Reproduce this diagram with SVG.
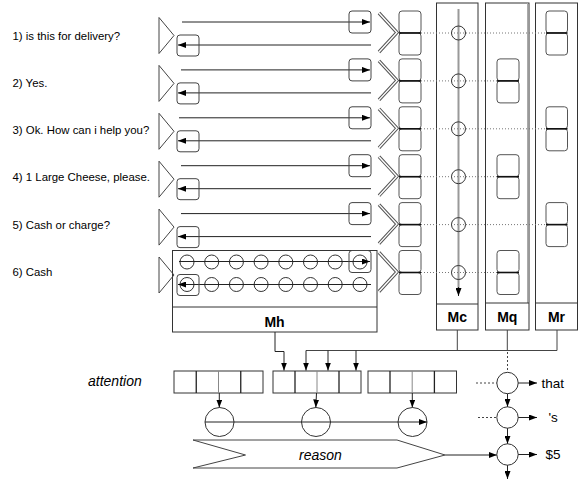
<svg xmlns="http://www.w3.org/2000/svg" width="582" height="484" viewBox="0 0 582 484">
<style>
text{font-family:"Liberation Sans",Arial,sans-serif;fill:#000}
.lbl{font-size:11.4px}
.it{font-style:italic;font-size:14px}
.b{font-weight:bold;font-size:14px;text-anchor:middle}
.sm{font-size:13.5px}
.s{fill:none;stroke:#444;stroke-width:1}
.w{fill:#fff;stroke:#333;stroke-width:1}
.bx{fill:none;stroke:#444;stroke-width:1}
.mb{fill:#fff;stroke:#555;stroke-width:1}
.mid{stroke:#111;stroke-width:1.6}
.ar{fill:none;stroke:#222;stroke-width:1;marker-end:url(#ah)}
.dot{fill:none;stroke:#777;stroke-width:1;stroke-dasharray:1 2}
.dash{fill:none;stroke:#444;stroke-width:1;stroke-dasharray:2 2}
.ch1{fill:none;stroke:#555;stroke-width:3.4}
.ch2{fill:none;stroke:#fff;stroke-width:1.4}
.c{fill:none;stroke:#333;stroke-width:1}
.dk{stroke:#222;stroke-width:1.3}
.gr{stroke:#888;stroke-width:1}
</style>
<defs>
<marker id="ah" markerUnits="userSpaceOnUse" markerWidth="8" markerHeight="6" refX="8" refY="3" orient="auto">
<path d="M0,0 L8,3 L0,6 z" fill="#000"/>
</marker>
</defs>
<rect width="582" height="484" fill="#fff"/>

<!-- columns -->
<g id="Mc">
<rect class="w" x="436.5" y="3" width="41.5" height="327"/>
<line x1="436.5" y1="304" x2="478" y2="304" stroke="#333"/>
<line x1="458.5" y1="9" x2="458.5" y2="288" stroke="#999" stroke-width="2"/>
<line x1="458.5" y1="287" x2="458.5" y2="296" class="ar"/>
<text class="b" x="457.3" y="322">Mc</text>
</g>
<g id="Mq">
<rect class="w" x="485.5" y="3" width="43.5" height="327"/>
<line x1="527.5" y1="3" x2="527.5" y2="303" stroke="#aaa"/>
<line x1="485.5" y1="303" x2="529" y2="303" stroke="#333"/>
<text class="b" x="507.3" y="322">Mq</text>
</g>
<g id="Mr">
<rect class="w" x="535.5" y="3" width="42" height="327"/>
<line x1="535.5" y1="303" x2="577.5" y2="303" stroke="#333"/>
<text class="b" x="556.5" y="322">Mr</text>
</g>

<!-- dotted links -->
<g id="links">
<line class="dot" x1="421" y1="33" x2="546" y2="33"/>
<line class="dot" x1="421" y1="80.9" x2="497" y2="80.9"/>
<line class="dot" x1="421" y1="128.8" x2="546" y2="128.8"/>
<line class="dot" x1="421" y1="176.7" x2="497" y2="176.7"/>
<line class="dot" x1="421" y1="224.6" x2="546" y2="224.6"/>
<line class="dot" x1="421" y1="272.5" x2="497" y2="272.5"/>
</g>

<g id="Mc-cells">
<circle class="c" cx="458.5" cy="33" r="7"/>
<circle class="c" cx="458.5" cy="80.9" r="7"/>
<circle class="c" cx="458.5" cy="128.8" r="7"/>
<circle class="c" cx="458.5" cy="176.7" r="7"/>
<circle class="c" cx="458.5" cy="224.6" r="7"/>
<circle class="c" cx="458.5" cy="272.5" r="7"/>
</g>

<g id="Mr-cells">
<g transform="translate(0,0)"><rect class="mb" x="546" y="11" width="21.5" height="22" rx="3"/><rect class="mb" x="546" y="33" width="21.5" height="22" rx="3"/><line class="mid" x1="546" y1="33" x2="567.5" y2="33"/></g>
<g transform="translate(0,95.8)"><rect class="mb" x="546" y="11" width="21.5" height="22" rx="3"/><rect class="mb" x="546" y="33" width="21.5" height="22" rx="3"/><line class="mid" x1="546" y1="33" x2="567.5" y2="33"/></g>
<g transform="translate(0,191.6)"><rect class="mb" x="546" y="11" width="21.5" height="22" rx="3"/><rect class="mb" x="546" y="33" width="21.5" height="22" rx="3"/><line class="mid" x1="546" y1="33" x2="567.5" y2="33"/></g>
</g>
<g id="Mq-cells">
<g transform="translate(0,47.9)"><rect class="mb" x="497" y="11" width="22" height="22" rx="3"/><rect class="mb" x="497" y="33" width="22" height="22" rx="3"/><line class="mid" x1="497" y1="33" x2="519" y2="33"/></g>
<g transform="translate(0,143.7)"><rect class="mb" x="497" y="11" width="22" height="22" rx="3"/><rect class="mb" x="497" y="33" width="22" height="22" rx="3"/><line class="mid" x1="497" y1="33" x2="519" y2="33"/></g>
<g transform="translate(0,239.5)"><rect class="mb" x="497" y="11" width="22" height="22" rx="3"/><rect class="mb" x="497" y="33" width="22" height="22" rx="3"/><line class="mid" x1="497" y1="33" x2="519" y2="33"/></g>
</g>

<!-- Mh -->
<g id="Mh">
<rect class="w" x="172.5" y="250.5" width="204.5" height="81.5"/>
<line x1="172.5" y1="307" x2="377" y2="307" stroke="#333"/>
<g class="c">
<circle cx="187" cy="262" r="7"/><circle cx="211.7" cy="262" r="7"/><circle cx="236.4" cy="262" r="7"/><circle cx="261.1" cy="262" r="7"/><circle cx="285.8" cy="262" r="7"/><circle cx="310.5" cy="262" r="7"/><circle cx="335.2" cy="262" r="7"/><circle cx="360" cy="262" r="7"/>
<circle cx="187" cy="284.5" r="7"/><circle cx="211.7" cy="284.5" r="7"/><circle cx="236.4" cy="284.5" r="7"/><circle cx="261.1" cy="284.5" r="7"/><circle cx="285.8" cy="284.5" r="7"/><circle cx="310.5" cy="284.5" r="7"/><circle cx="335.2" cy="284.5" r="7"/><circle cx="360" cy="284.5" r="7"/>
</g>
<text class="b" x="274.5" y="327">Mh</text>
</g>

<!-- rows -->
<g id="row1">
<text class="lbl" x="12.5" y="39.5">1) is this for delivery?</text>
<polygon class="s" points="159,17.5 174,35.5 159,53.5"/>
<line class="ar" x1="182" y1="22" x2="370" y2="22"/>
<rect class="bx" x="349" y="11" width="22" height="22" rx="3"/>
<line class="ar" x1="371" y1="45" x2="178" y2="45"/>
<rect class="bx" x="177" y="35" width="22" height="21" rx="3"/>
<polyline class="ch1" points="379,13 397,32.5 379,52"/><polyline class="ch2" points="379,13 397,32.5 379,52"/>
<rect class="mb" x="399" y="11" width="22" height="22" rx="3"/><rect class="mb" x="399" y="33" width="22" height="22" rx="3"/><line class="mid" x1="399" y1="33" x2="421" y2="33"/>
</g>
<g id="row2">
<text class="lbl" x="12.5" y="86.8">2) Yes.</text>
<g transform="translate(0,47.9)">
<polygon class="s" points="159,17.5 174,35.5 159,53.5"/>
<line class="ar" x1="181" y1="22" x2="370" y2="22"/>
<rect class="bx" x="349" y="11" width="22" height="22" rx="3"/>
<line class="ar" x1="371" y1="45" x2="178" y2="45"/>
<rect class="bx" x="177" y="35" width="22" height="21" rx="3"/>
<polyline class="ch1" points="379,13 397,32.5 379,52"/><polyline class="ch2" points="379,13 397,32.5 379,52"/>
<rect class="mb" x="399" y="11" width="22" height="22" rx="3"/><rect class="mb" x="399" y="33" width="22" height="22" rx="3"/><line class="mid" x1="399" y1="33" x2="421" y2="33"/>
</g>
</g>
<g id="row3">
<text class="lbl" x="12.5" y="134.1">3) Ok. How can i help you?</text>
<g transform="translate(0,95.8)">
<polygon class="s" points="159,17.5 174,35.5 159,53.5"/>
<line class="ar" x1="179" y1="22" x2="370" y2="22"/>
<rect class="bx" x="349" y="11" width="22" height="22" rx="3"/>
<line class="ar" x1="371" y1="45" x2="178" y2="45"/>
<rect class="bx" x="177" y="35" width="22" height="21" rx="3"/>
<polyline class="ch1" points="379,13 397,32.5 379,52"/><polyline class="ch2" points="379,13 397,32.5 379,52"/>
<rect class="mb" x="399" y="11" width="22" height="22" rx="3"/><rect class="mb" x="399" y="33" width="22" height="22" rx="3"/><line class="mid" x1="399" y1="33" x2="421" y2="33"/>
</g>
</g>
<g id="row4">
<text class="lbl" x="12.5" y="181.4">4) 1 Large Cheese, please.</text>
<g transform="translate(0,143.7)">
<polygon class="s" points="159,17.5 174,35.5 159,53.5"/>
<line class="ar" x1="181" y1="22" x2="370" y2="22"/>
<rect class="bx" x="349" y="11" width="22" height="22" rx="3"/>
<line class="ar" x1="371" y1="45" x2="178" y2="45"/>
<rect class="bx" x="177" y="35" width="22" height="21" rx="3"/>
<polyline class="ch1" points="379,13 397,32.5 379,52"/><polyline class="ch2" points="379,13 397,32.5 379,52"/>
<rect class="mb" x="399" y="11" width="22" height="22" rx="3"/><rect class="mb" x="399" y="33" width="22" height="22" rx="3"/><line class="mid" x1="399" y1="33" x2="421" y2="33"/>
</g>
</g>
<g id="row5">
<text class="lbl" x="12.5" y="228.7">5) Cash or charge?</text>
<g transform="translate(0,191.6)">
<polygon class="s" points="159,17.5 174,35.5 159,53.5"/>
<line class="ar" x1="181" y1="22" x2="370" y2="22"/>
<rect class="bx" x="349" y="11" width="22" height="22" rx="3"/>
<line class="ar" x1="371" y1="45" x2="178" y2="45"/>
<rect class="bx" x="177" y="35" width="22" height="21" rx="3"/>
<polyline class="ch1" points="379,13 397,32.5 379,52"/><polyline class="ch2" points="379,13 397,32.5 379,52"/>
<rect class="mb" x="399" y="11" width="22" height="22" rx="3"/><rect class="mb" x="399" y="33" width="22" height="22" rx="3"/><line class="mid" x1="399" y1="33" x2="421" y2="33"/>
</g>
</g>
<g id="row6">
<text class="lbl" x="12.5" y="276">6) Cash</text>
<g transform="translate(0,239.5)">
<polygon class="s" points="159,17.5 174,35.5 159,53.5"/>
<line class="ar" x1="179" y1="22" x2="370" y2="22"/>
<rect class="bx" x="349" y="11" width="22" height="22" rx="3"/>
<line class="ar" x1="371" y1="45" x2="178" y2="45"/>
<rect class="bx" x="177" y="35" width="22" height="21" rx="3"/>
<polyline class="ch1" points="379,13 397,32.5 379,52"/><polyline class="ch2" points="379,13 397,32.5 379,52"/>
<rect class="mb" x="399" y="11" width="22" height="22" rx="3"/><rect class="mb" x="399" y="33" width="22" height="22" rx="3"/><line class="mid" x1="399" y1="33" x2="421" y2="33"/>
</g>
</g>

<!-- attention -->
<g id="attention">
<text class="it" x="88" y="386">attention</text>
<g id="att1">
<rect class="w" x="174" y="371" width="89" height="22"/>
<line class="dk" x1="196.25" y1="371" x2="196.25" y2="393"/><line class="gr" x1="218.5" y1="371" x2="218.5" y2="393"/><line class="dk" x1="240.75" y1="371" x2="240.75" y2="393"/>
</g>
<g id="att2">
<rect class="w" x="273" y="371" width="88" height="22"/>
<line class="dk" x1="295" y1="371" x2="295" y2="393"/><line class="gr" x1="317" y1="371" x2="317" y2="393"/><line class="dk" x1="339" y1="371" x2="339" y2="393"/>
</g>
<g id="att3">
<rect class="w" x="368" y="371" width="88.5" height="22"/>
<line class="dk" x1="390" y1="371" x2="390" y2="393"/><line class="gr" x1="412.2" y1="371" x2="412.2" y2="393"/><line class="dk" x1="434.4" y1="371" x2="434.4" y2="393"/>
</g>
</g>
<g id="att-nodes">
<circle class="c" cx="219.5" cy="422" r="14.5"/>
<circle class="c" cx="316" cy="422" r="14.5"/>
<circle class="c" cx="412.5" cy="422" r="14.5"/>
</g>
<g id="reason">
<polygon class="s" points="193,440 397,440 445,455 397,468 193,468 245.5,455"/>
<text class="it" x="320.5" y="459.5" text-anchor="middle">reason</text>
</g>
<g id="out-nodes">
<circle class="c" cx="507.5" cy="383" r="10.7"/>
<circle class="c" cx="507.5" cy="417.5" r="10.7"/>
<circle class="c" cx="507.5" cy="454.5" r="10.7"/>
<text class="sm" x="541.5" y="387.5">that</text>
<text class="sm" x="548.5" y="422">'s</text>
<text class="sm" x="545.5" y="459">$5</text>
</g>

<!-- connectors -->
<g id="connectors">
<path class="ar" d="M275,332 V351.5 H284 V370.5"/>
<path fill="none" stroke="#444" d="M457.3,330 V350.5 M507.3,330 V350.5 M557,330 V350.5 H306"/>
<path class="ar" d="M306,350.5 V370.5"/>
<path class="ar" d="M328,350.5 V370.5"/>
<path class="ar" d="M356,350.5 V370.5"/>
<line class="ar" x1="219.3" y1="393" x2="219.3" y2="407.5"/>
<line class="ar" x1="316.5" y1="393" x2="315.8" y2="407.5"/>
<line class="ar" x1="412.3" y1="393" x2="412.3" y2="407.5"/>
<line class="ar" x1="205" y1="422" x2="427" y2="422"/>
<line class="ar" x1="445" y1="455" x2="496.8" y2="455"/>
<line class="dash" x1="507.5" y1="352" x2="507.5" y2="372.3"/>
<line class="dash" x1="476" y1="383" x2="496.8" y2="383"/>
<line class="dash" x1="478" y1="417.5" x2="496.8" y2="417.5"/>
<line class="ar" x1="507.5" y1="393.7" x2="507.5" y2="406.8"/>
<line class="ar" x1="507.5" y1="428.2" x2="507.5" y2="443.8"/>
<line class="ar" x1="507.5" y1="465.2" x2="507.5" y2="479"/>
<line class="ar" x1="518.2" y1="383" x2="537" y2="383"/>
<line class="ar" x1="518.2" y1="417.5" x2="537" y2="417.5"/>
<line class="ar" x1="518.2" y1="454.5" x2="537" y2="454.5"/>
</g>
</svg>
